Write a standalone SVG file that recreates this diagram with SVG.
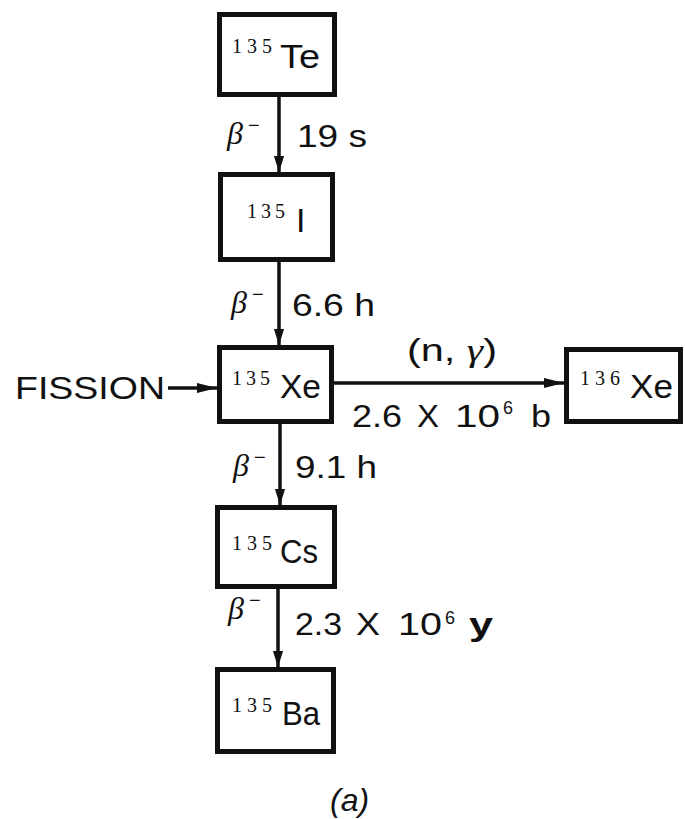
<svg xmlns="http://www.w3.org/2000/svg" width="685" height="819" viewBox="0 0 685 819">
  <style>
    .box { fill: #fff; stroke: #111; stroke-width: 5; }
    .link { stroke: #111; stroke-width: 3.5; fill: none; }
    .sym { font-family: "Liberation Sans", Arial, sans-serif; font-size: 34px; fill: #111; }
    .mass { font-family: "Liberation Serif", "Times New Roman", serif; font-size: 20px; fill: #111; }
    .lbl { font-family: "Liberation Sans", Arial, sans-serif; font-size: 32px; fill: #111; }
    .beta { font-family: "Liberation Serif", "Times New Roman", serif; font-style: italic; font-size: 32px; fill: #111; }
    .minus { font-family: "Liberation Sans", Arial, sans-serif; font-size: 20px; fill: #111; }
    .sup { font-family: "Liberation Sans", Arial, sans-serif; font-size: 18px; fill: #111; }
  </style>
  <defs>
    <marker id="head" markerUnits="userSpaceOnUse" markerWidth="16" markerHeight="24" refX="22" refY="7" viewBox="0 0 22 14" orient="auto">
      <path d="M0,0 L22,7 L0,14 Z" fill="#111"/>
    </marker>
    <marker id="headSmall" markerUnits="userSpaceOnUse" markerWidth="20" markerHeight="12" refX="20" refY="5" viewBox="0 0 20 10" orient="auto">
      <path d="M0,0 L20,5 L0,10 Z" fill="#111"/>
    </marker>
  </defs>

  <!-- decay chain connectors -->
  <g id="connectors">
    <line class="link" x1="279" y1="97" x2="279" y2="172" marker-end="url(#head)"/>
    <line class="link" x1="279" y1="262" x2="279" y2="345" marker-end="url(#head)"/>
    <line class="link" x1="280" y1="424" x2="280" y2="505" marker-end="url(#head)"/>
    <line class="link" x1="278" y1="589" x2="278" y2="667" marker-end="url(#head)"/>
    <line class="link" x1="168" y1="388" x2="217" y2="388" marker-end="url(#headSmall)"/>
    <line class="link" x1="334" y1="383" x2="564" y2="383" marker-end="url(#headSmall)"/>

    <!-- transition labels -->
    <text class="beta" x="227" y="144">β</text><text class="minus" x="248" y="132">−</text>
    <text class="lbl" x="297" y="147" font-size="34" textLength="70" lengthAdjust="spacingAndGlyphs">19 s</text>

    <text class="beta" x="231" y="313">β</text><text class="minus" x="252" y="301">−</text>
    <text class="lbl" x="292" y="316" textLength="83" lengthAdjust="spacingAndGlyphs">6.6 h</text>

    <text class="beta" x="233" y="476">β</text><text class="minus" x="254" y="464">−</text>
    <text class="lbl" x="295" y="478" textLength="82" lengthAdjust="spacingAndGlyphs">9.1 h</text>

    <text class="beta" x="228" y="619">β</text><text class="minus" x="249" y="607">−</text>
    <text class="lbl" x="295" y="635" textLength="47" lengthAdjust="spacingAndGlyphs">2.3</text>
    <text class="lbl" x="356" y="635" textLength="24" lengthAdjust="spacingAndGlyphs">X</text>
    <text class="lbl" x="398" y="635" textLength="44" lengthAdjust="spacingAndGlyphs">10</text>
    <text class="sup" x="445" y="624">6</text>
    <text class="lbl" x="469" y="635" font-weight="bold" textLength="24" lengthAdjust="spacingAndGlyphs">y</text>

    <text class="lbl" x="15" y="399" textLength="150" lengthAdjust="spacingAndGlyphs">FISSION</text>

    <text class="lbl" x="407" y="361" textLength="90" lengthAdjust="spacingAndGlyphs">(n, <tspan font-family="Liberation Serif, serif" font-style="italic">γ</tspan>)</text>
    <text class="lbl" x="352" y="427" textLength="50" lengthAdjust="spacingAndGlyphs">2.6</text>
    <text class="lbl" x="417" y="427" textLength="22" lengthAdjust="spacingAndGlyphs">X</text>
    <text class="lbl" x="455" y="427" textLength="45" lengthAdjust="spacingAndGlyphs">10</text>
    <text class="sup" x="503" y="414">6</text>
    <text class="lbl" x="531" y="427" textLength="20" lengthAdjust="spacingAndGlyphs">b</text>
  </g>

  <g id="te135">
    <rect class="box" x="219.5" y="14.5" width="115" height="80"/>
    <text class="mass" x="232" y="53" textLength="40" lengthAdjust="spacing">135</text>
    <text class="sym" x="280" y="68" textLength="40" lengthAdjust="spacingAndGlyphs">Te</text>
  </g>

  <g id="i135">
    <rect class="box" x="220.5" y="174.5" width="112" height="85"/>
    <text class="mass" x="247" y="218" textLength="38" lengthAdjust="spacing">135</text>
    <text class="sym" x="296" y="232">I</text>
  </g>

  <g id="xe135">
    <rect class="box" x="219.5" y="347.5" width="112" height="74"/>
    <text class="mass" x="232" y="385" textLength="38" lengthAdjust="spacing">135</text>
    <text class="sym" x="280" y="398" textLength="41" lengthAdjust="spacingAndGlyphs">Xe</text>
  </g>

  <g id="xe136">
    <rect class="box" x="566.5" y="349.5" width="114" height="72"/>
    <text class="mass" x="580" y="385" textLength="40" lengthAdjust="spacing">136</text>
    <text class="sym" x="630" y="398" textLength="43" lengthAdjust="spacingAndGlyphs">Xe</text>
  </g>

  <g id="cs135">
    <rect class="box" x="217.5" y="507.5" width="117" height="79"/>
    <text class="mass" x="232" y="550" textLength="40" lengthAdjust="spacing">135</text>
    <text class="sym" x="280" y="563" textLength="38" lengthAdjust="spacingAndGlyphs">Cs</text>
  </g>

  <g id="ba135">
    <rect class="box" x="217.5" y="669.5" width="116" height="82"/>
    <text class="mass" x="232" y="712" textLength="40" lengthAdjust="spacing">135</text>
    <text class="sym" x="282" y="725" textLength="38" lengthAdjust="spacingAndGlyphs">Ba</text>
  </g>

  <text class="lbl" x="330" y="811" font-style="italic" font-size="30">(a)</text>
</svg>
